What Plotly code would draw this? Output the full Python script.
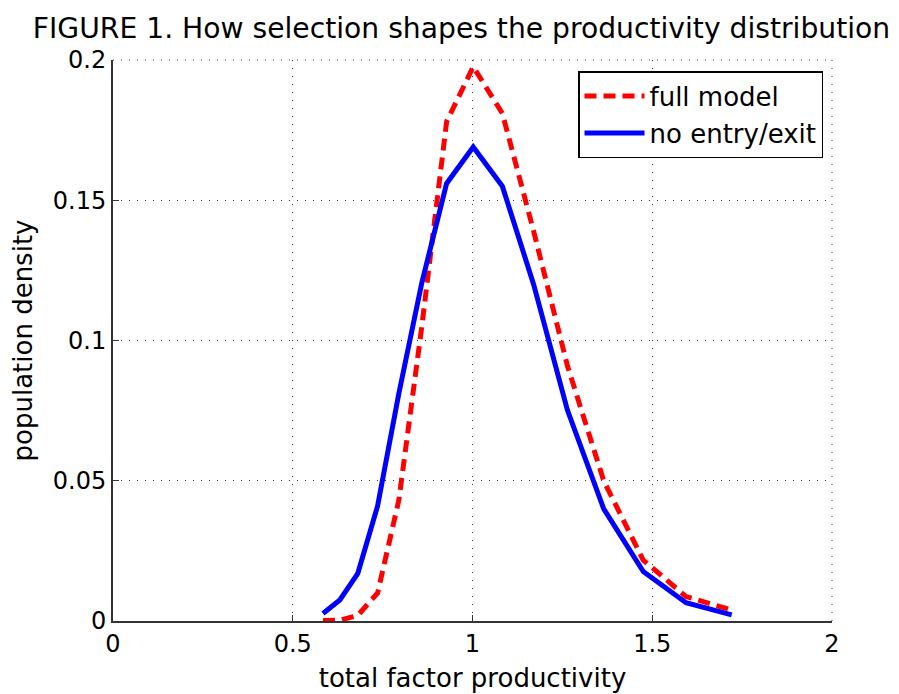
import plotly.graph_objects as go

# grid of total factor productivity values
tfp = [0.584, 0.631, 0.681, 0.736, 0.795, 0.859, 0.928, 1.002,
       1.083, 1.170, 1.264, 1.365, 1.475, 1.594, 1.721]

full_model = [0.0002, 0.0003, 0.0020, 0.0100, 0.0430, 0.1050, 0.1780, 0.1976,
              0.1810, 0.1390, 0.0910, 0.0500, 0.0217, 0.0087, 0.0039]

no_entry_exit = [0.0027, 0.0075, 0.0170, 0.0410, 0.0810, 0.1206, 0.1560, 0.1690,
                 0.1550, 0.1200, 0.0752, 0.0400, 0.0176, 0.0065, 0.0022]

x_ticks = [0, 0.5, 1, 1.5, 2]
x_tick_labels = ["0", "0.5", "1", "1.5", "2"]
y_ticks = [0, 0.05, 0.1, 0.15, 0.2]
y_tick_labels = ["0", "0.05", "0.1", "0.15", "0.2"]

FONT = "DejaVu Sans, Verdana, sans-serif"
GRID = "#333333"

fig = go.Figure()
fig.add_trace(go.Scatter(
    x=tfp, y=full_model, mode="lines", name="full model",
    line=dict(color="#ff0000", width=5, dash="12px,7px"),
))
fig.add_trace(go.Scatter(
    x=tfp, y=no_entry_exit, mode="lines", name="no entry/exit",
    line=dict(color="#0000ff", width=5),
))

axis_common = dict(
    showgrid=True, gridcolor=GRID, gridwidth=1, griddash="1px,7px",
    showline=True, linecolor=GRID, linewidth=2, mirror=False,
    ticks="inside", ticklen=6, tickcolor=GRID, tickwidth=1,
    zeroline=False, automargin=False,
    tickfont=dict(family=FONT, size=24, color="black"),
)

fig.update_xaxes(
    range=[0, 2], tickvals=x_ticks, ticktext=x_tick_labels,
    title=dict(text="total factor productivity", standoff=12,
               font=dict(family=FONT, size=26, color="black")),
    **axis_common,
)
fig.update_yaxes(
    range=[0, 0.2], tickvals=y_ticks, ticktext=y_tick_labels,
    title=dict(text="population density", standoff=18,
               font=dict(family=FONT, size=26, color="black")),
    **axis_common,
)

# dotted frame on the top and right edges (grid lines at the range limits)
fig.add_shape(type="line", xref="paper", yref="paper", x0=0, x1=1, y0=1, y1=1,
              line=dict(color=GRID, width=1, dash="1px,7px"))
fig.add_shape(type="line", xref="paper", yref="paper", x0=1, x1=1, y0=0, y1=1,
              line=dict(color=GRID, width=1, dash="1px,7px"))

# the page has an 8px body margin, so the figure is sized to fit the window
fig.update_layout(
    width=891, height=686,
    margin=dict(l=105, r=67, t=52, b=73),
    paper_bgcolor="white", plot_bgcolor="white",
    font=dict(family=FONT, color="black"),
    title=dict(text="FIGURE 1. How selection shapes the productivity distribution",
               xref="container", x=0.509, xanchor="center",
               y=0.971, yanchor="middle",
               font=dict(family=FONT, size=28.2, color="black")),
    legend=dict(
        x=0.9875, xanchor="right", y=0.98, yanchor="top",
        bgcolor="white", bordercolor="black", borderwidth=1.5,
        font=dict(family=FONT, size=26, color="black"),
        itemwidth=60, tracegroupgap=0,
    ),
    showlegend=True,
)

fig.write_html("out.html")
